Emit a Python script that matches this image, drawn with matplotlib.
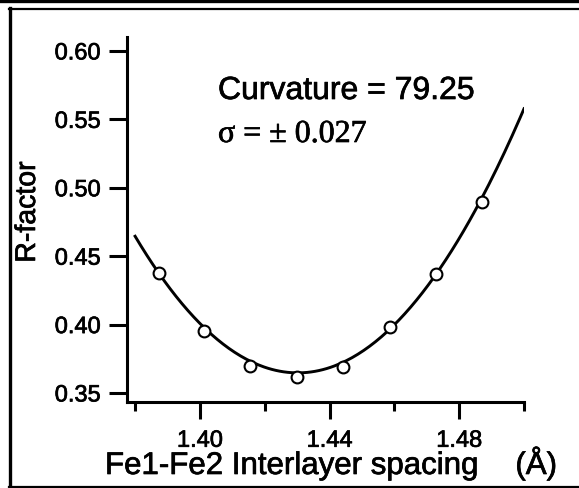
import numpy as np
import matplotlib.pyplot as plt
import matplotlib.patheffects as pe
from matplotlib.lines import Line2D
from matplotlib.ticker import FixedLocator

plt.rcParams['font.family'] = ['Liberation Sans', 'DejaVu Sans']

# R-factor versus Fe1-Fe2 interlayer spacing
spacing = [1.3873, 1.4012, 1.4155, 1.4301, 1.4440, 1.4586, 1.4729, 1.4871]
rfactor = [0.4377, 0.3953, 0.3697, 0.3617, 0.3690, 0.3983, 0.4370, 0.4896]

# parabolic fit: R = (curvature / 2) * (d - d0)^2 + r_min
curvature = 79.25
d0 = 1.4302
r_min = 0.3647
sigma = 0.027

xmajor = [1.40, 1.44, 1.48]
xminor = [1.38, 1.42, 1.46, 1.50]
yticks = [0.35, 0.40, 0.45, 0.50, 0.55, 0.60]

# slightly heavier glyphs
heavy = [pe.withStroke(linewidth=0.5, foreground='black')]

W, H = 579, 489
fig = plt.figure(figsize=(W / 100, H / 100), dpi=100)
ax = fig.add_axes([127 / W, 1 - 403 / H, (524 - 127) / W, (403 - 38) / H])

d_fit = np.linspace(1.38, 1.50, 200)
r_fit = curvature / 2 * (d_fit - d0) ** 2 + r_min
ax.plot(d_fit, r_fit, color='black', lw=2.1, zorder=2)
ax.plot(spacing, rfactor, 'o', mfc='white', mec='black', ms=8.5, mew=1.5,
        zorder=3)

ax.set_xlim(1.3775, 1.50)
ax.set_ylim(0.3434, 0.6102)

for s in ['top', 'right']:
    ax.spines[s].set_visible(False)
for s in ['left', 'bottom']:
    ax.spines[s].set_linewidth(2.2)

ax.xaxis.set_major_locator(FixedLocator(xmajor))
ax.xaxis.set_minor_locator(FixedLocator(xminor))
ax.set_xticklabels(['%.2f' % v for v in xmajor])
ax.set_yticks(yticks)
ax.set_yticklabels(['%.2f' % v for v in yticks])
ax.tick_params(axis='x', which='major', direction='out', length=12, width=2.2,
               pad=8, labelsize=17)
ax.tick_params(axis='x', which='minor', direction='out', length=6.5, width=2.2)
ax.tick_params(axis='y', direction='out', length=13, width=2.2, pad=6,
               labelsize=17)
for lab in ax.get_xticklabels() + ax.get_yticklabels():
    lab.set_path_effects(heavy)

fig.text(218 / W, 1 - 100 / H, 'Curvature = %.2f' % curvature, fontsize=23,
         ha='left', va='baseline', path_effects=heavy)
fig.text(218 / W, 1 - 143 / H, 'σ = ± %.3f' % sigma, fontsize=23,
         family=['Liberation Serif', 'DejaVu Serif'], ha='left', va='baseline',
         path_effects=heavy)

fig.text(28 / W, 1 - 213 / H, 'R-factor', fontsize=20.5, rotation=90,
         ha='center', va='center', path_effects=heavy)
fig.text(105 / W, 1 - 475 / H, 'Fe1-Fe2 Interlayer spacing', fontsize=22.5,
         ha='left', va='baseline', path_effects=heavy)
fig.text(557 / W, 1 - 475 / H, '(Å)', fontsize=22.5, ha='right', va='baseline',
         path_effects=heavy)

# outer frame
def frame_line(x0, y0, x1, y1, lw):
    fig.add_artist(Line2D([x0 / W, x1 / W], [1 - y0 / H, 1 - y1 / H],
                          color='black', lw=lw, transform=fig.transFigure))

frame_line(0, 1.5, W, 1.5, 2.4)
frame_line(9, 9.5, W, 9.5, 1.6)
frame_line(10, 9, 10, H, 2.4)
frame_line(9, 487.5, W, 487.5, 1.6)

fig.savefig('out.png', dpi=100)
